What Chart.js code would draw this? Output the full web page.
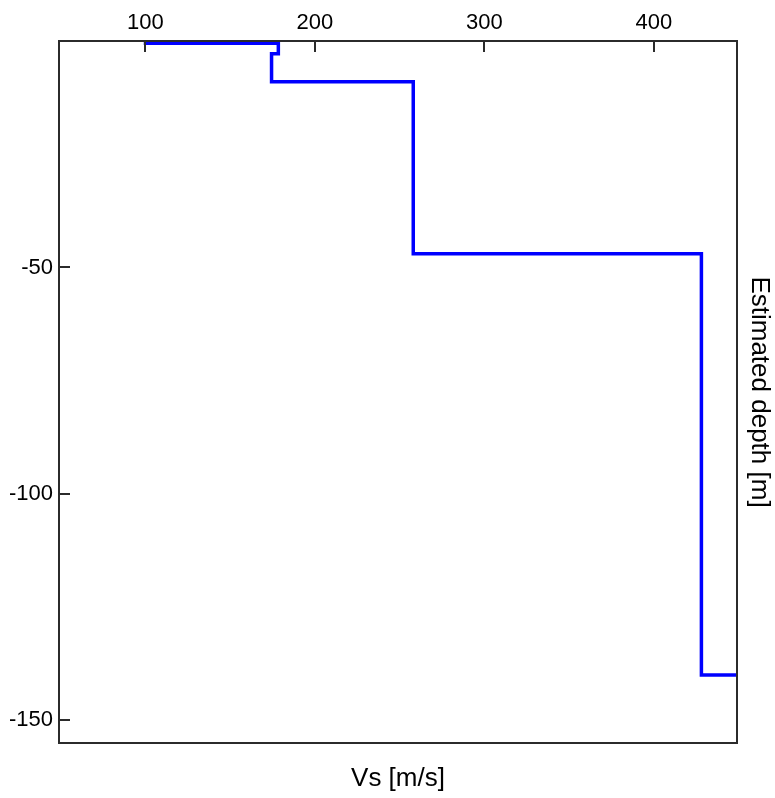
<!DOCTYPE html>
<html>
<head>
<meta charset="utf-8">
<script src="https://cdn.jsdelivr.net/npm/chart.js@4.4.0/dist/chart.umd.min.js"></script>
<style>
  html, body { margin: 0; padding: 0; background: #fff; }
  canvas { display: block; }
</style>
</head>
<body>
<canvas id="vsProfile" width="775" height="798"></canvas>
<script>
// profile corner points (Vs in m/s, depth in m)
const vsPoints    = [99, 178.4, 178.4, 174.4, 174.4, 258, 258, 428, 428, 450];
const depthPoints = [-0.5, -0.5, -2.8, -2.8, -9, -9, -47, -47, -140, -140];

const xTicks = [100, 200, 300, 400];
const yTicks = [-50, -100, -150];

const xRange = [49, 449];
const yRange = [-155, 0];

const FONT = "'Liberation Sans', Arial, sans-serif";

document.addEventListener('DOMContentLoaded', () => {
    try {
        if (typeof Chart === 'undefined') throw new Error('Chart.js not loaded');

        const canvas = document.getElementById('vsProfile');
        const ctx = canvas.getContext('2d');

        // box round the plot + inward tick marks on top and left
        const frame = {
            id: 'frame',
            afterDatasetsDraw(chart) {
                const { ctx, chartArea: a, scales } = chart;
                ctx.save();
                ctx.strokeStyle = '#2b2b2b';
                ctx.lineWidth = 2;
                ctx.strokeRect(a.left, a.top, a.right - a.left, a.bottom - a.top);
                ctx.beginPath();
                xTicks.forEach(v => {
                    const px = Math.round(scales.x.getPixelForValue(v));
                    ctx.moveTo(px, a.top);
                    ctx.lineTo(px, a.top + 11);
                });
                yTicks.forEach(v => {
                    const py = Math.round(scales.y.getPixelForValue(v));
                    ctx.moveTo(a.left, py);
                    ctx.lineTo(a.left + 11, py);
                });
                ctx.stroke();
                ctx.restore();
            }
        };

        const config = {
            type: 'line',
            data: {
                datasets: [{
                    data: vsPoints.map((v, i) => ({ x: v, y: depthPoints[i] })),
                    borderColor: '#0000ff',
                    borderWidth: 3.5,
                    borderJoinStyle: 'miter',
                    borderCapStyle: 'butt',
                    pointRadius: 0,
                    tension: 0,
                    fill: false
                }]
            },
            options: {
                responsive: false,
                animation: false,
                devicePixelRatio: 1,
                layout: { padding: 0 },
                plugins: { legend: { display: false }, tooltip: { enabled: false } },
                scales: {
                    x: {
                        type: 'linear',
                        position: 'top',
                        min: xRange[0],
                        max: xRange[1],
                        grid: { display: false, drawTicks: false },
                        border: { display: false },
                        afterBuildTicks: s => { s.ticks = xTicks.map(v => ({ value: v })); },
                        afterFit: s => { s.height = 41; },
                        ticks: { color: '#000', padding: 5, maxRotation: 0, font: { family: FONT, size: 22 } }
                    },
                    y: {
                        type: 'linear',
                        position: 'left',
                        min: yRange[0],
                        max: yRange[1],
                        grid: { display: false, drawTicks: false },
                        border: { display: false },
                        afterBuildTicks: s => { s.ticks = yTicks.map(v => ({ value: v })); },
                        afterFit: s => { s.width = 59; },
                        ticks: { color: '#000', padding: 6, font: { family: FONT, size: 22 } }
                    },
                    x2: {
                        type: 'linear',
                        position: 'bottom',
                        grid: { display: false, drawTicks: false },
                        border: { display: false },
                        ticks: { display: false },
                        afterFit: s => { s.height = 55; },
                        title: { display: true, text: 'Vs [m/s]', color: '#000', padding: { top: 0, bottom: 4 }, font: { family: FONT, size: 26 } }
                    },
                    y2: {
                        type: 'linear',
                        position: 'right',
                        grid: { display: false, drawTicks: false },
                        border: { display: false },
                        ticks: { display: false },
                        afterFit: s => { s.width = 38; },
                        title: { display: true, text: 'Estimated depth [m]', color: '#000', padding: { top: 0, bottom: 0 }, font: { family: FONT, size: 26 } }
                    }
                }
            },
            plugins: [frame]
        };

        if (canvas._chartInstance) canvas._chartInstance.destroy();
        canvas._chartInstance = new Chart(ctx, config);
    } catch (err) {
        console.error('chart init error:', err);
    }
});
</script>
</body>
</html>
